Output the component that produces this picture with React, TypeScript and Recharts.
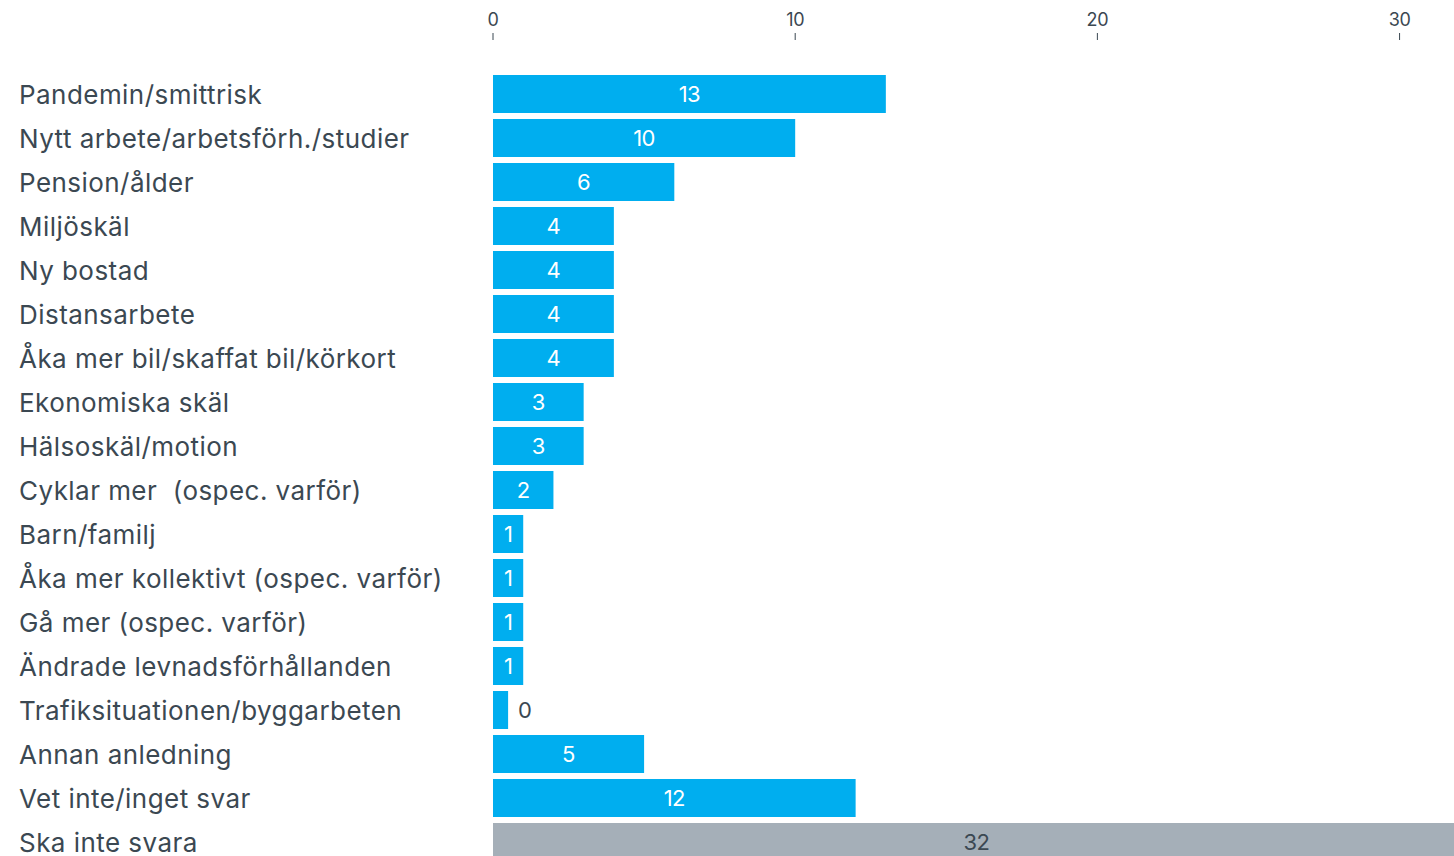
import { BarChart, Bar, XAxis, YAxis, Cell, LabelList } from "recharts";

const categories = [
  "Pandemin/smittrisk",
  "Nytt arbete/arbetsförh./studier",
  "Pension/ålder",
  "Miljöskäl",
  "Ny bostad",
  "Distansarbete",
  "Åka mer bil/skaffat bil/körkort",
  "Ekonomiska skäl",
  "Hälsoskäl/motion",
  "Cyklar mer  (ospec. varför)",
  "Barn/familj",
  "Åka mer kollektivt (ospec. varför)",
  "Gå mer (ospec. varför)",
  "Ändrade levnadsförhållanden",
  "Trafiksituationen/byggarbeten",
  "Annan anledning",
  "Vet inte/inget svar",
  "Ska inte svara",
];

const values = [13, 10, 6, 4, 4, 4, 4, 3, 3, 2, 1, 1, 1, 1, 0.5, 5, 12, 32];
const shownLabels = ["13", "10", "6", "4", "4", "4", "4", "3", "3", "2", "1", "1", "1", "1", "0", "5", "12", "32"];
const noAnswer = ["Ska inte svara"];
const xTicks = [0, 10, 20, 30];

const BLUE = "#00aeef";
const GREY = "#a5afb8";
const TEXT = "#3b4852";
const FONT = "Inter, 'Noto Sans', sans-serif";

const data = categories.map((name, i) => ({ name, value: values[i], shown: shownLabels[i] }));

function TopTick({ x, y, payload }: any) {
  return (
    <g>
      <text x={x} y={y - 53} textAnchor="middle" dominantBaseline="central" fill={TEXT} fontSize={18} fontFamily={FONT} letterSpacing={-0.4}>
        {payload.value}
      </text>
      <line x1={x} x2={x} y1={y - 39} y2={y - 32} stroke={TEXT} strokeWidth={1} />
    </g>
  );
}

function CategoryTick({ y, payload }: any) {
  return (
    <text
      x={11}
      y={y}
      textAnchor="start"
      dominantBaseline="central"
      fill={TEXT}
      fontSize={26}
      fontFamily={FONT}
      letterSpacing={0.45}
      style={{ whiteSpace: "pre" }}
    >
      {payload.value}
    </text>
  );
}

function BarValue(props: any) {
  const { x, y, width, height, index } = props;
  const label = shownLabels[index];
  const outside = width < 20;
  const grey = noAnswer.includes(categories[index]);
  return (
    <text
      x={outside ? x + width + 10 : x + width / 2}
      y={y + height / 2}
      textAnchor={outside ? "start" : "middle"}
      dominantBaseline="central"
      fill={outside || grey ? TEXT : "#ffffff"}
      fontSize={22}
      fontFamily={FONT}
      letterSpacing={-0.5}
    >
      {label}
    </text>
  );
}

export default function App() {
  return (
    <div style={{ width: 1454, height: 856, overflow: "hidden", position: "relative" }}>
      <style>{"body { margin: 0; }"}</style>
      <div style={{ position: "absolute", left: 8, top: 8 }}>
        <BarChart
          width={1452}
          height={856}
          data={data}
          layout="vertical"
          margin={{ top: 0, right: 0, bottom: 0, left: 0 }}
          barSize={38}
        >
          <XAxis
            type="number"
            orientation="top"
            domain={[0, 32]}
            ticks={xTicks}
            height={64}
            axisLine={false}
            tickLine={false}
            tickSize={0}
            tickMargin={0}
            interval={0}
            tick={<TopTick />}
          />
          <YAxis
            type="category"
            dataKey="name"
            width={485}
            axisLine={false}
            tickLine={false}
            interval={0}
            tick={<CategoryTick />}
          />
          <Bar dataKey="value" isAnimationActive={false}>
            {data.map((d) => (
              <Cell key={d.name} fill={noAnswer.includes(d.name) ? GREY : BLUE} />
            ))}
            <LabelList dataKey="shown" content={<BarValue />} />
          </Bar>
        </BarChart>
      </div>
    </div>
  );
}
